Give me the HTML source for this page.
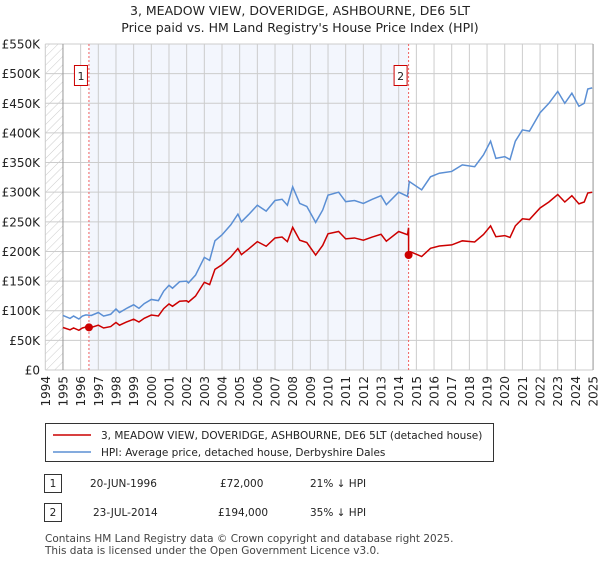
<!DOCTYPE html>
<html><head><meta charset="utf-8"><style>
body{margin:0;background:#fff;font-family:"Liberation Sans","DejaVu Sans",sans-serif;}
svg text{font-family:"DejaVu Sans","Liberation Sans",sans-serif;}
</style></head><body>
<svg width="600" height="560" xmlns="http://www.w3.org/2000/svg" id="chart">
<defs><pattern id="hatch" patternUnits="userSpaceOnUse" width="6" height="6" patternTransform="rotate(45)"><line x1="0" y1="0" x2="0" y2="6" stroke="#ccc" stroke-width="1"/></pattern></defs>
<text x="300" y="15" text-anchor="middle" font-size="12.5" fill="#222">3, MEADOW VIEW, DOVERIDGE, ASHBOURNE, DE6 5LT</text>
<text x="300" y="32" text-anchor="middle" font-size="12.5" fill="#222">Price paid vs. HM Land Registry's House Price Index (HPI)</text>
<g id="plot"></g>
<g>
<rect x="45.5" y="423.5" width="448" height="38" fill="#fff" stroke="#333"/>
<line x1="53" y1="435" x2="91" y2="435" stroke="#cc0000" stroke-width="1.5"/>
<text x="101" y="439" font-size="10.5" fill="#222">3, MEADOW VIEW, DOVERIDGE, ASHBOURNE, DE6 5LT (detached house)</text>
<line x1="53" y1="452" x2="91" y2="452" stroke="#5b8fd4" stroke-width="1.5"/>
<text x="101" y="456" font-size="10.5" fill="#222">HPI: Average price, detached house, Derbyshire Dales</text>
</g>
<g font-size="10.5" fill="#222">
<rect x="44.5" y="474.5" width="17" height="18" fill="#fff" stroke="#333"/><text x="53" y="487" text-anchor="middle">1</text>
<text x="90" y="487">20-JUN-1996</text><text x="220" y="487">£72,000</text><text x="310" y="487">21% ↓ HPI</text>
<rect x="44.5" y="503.5" width="17" height="18" fill="#fff" stroke="#333"/><text x="53" y="516" text-anchor="middle">2</text>
<text x="93" y="516">23-JUL-2014</text><text x="218" y="516">£194,000</text><text x="310" y="516">35% ↓ HPI</text>
</g>
<text x="45" y="542" font-size="10.5" fill="#444">Contains HM Land Registry data © Crown copyright and database right 2025.</text>
<text x="45" y="554" font-size="10.5" fill="#444">This data is licensed under the Open Government Licence v3.0.</text>
</svg>
<script>
const hpiYears=[1995.0,1995.4,1995.6,1995.9,1996.1,1996.3,1996.6,1997.0,1997.3,1997.7,1998.0,1998.2,1998.6,1999.0,1999.3,1999.6,2000.0,2000.4,2000.7,2001.0,2001.2,2001.6,2002.0,2002.1,2002.5,2003.0,2003.3,2003.6,2004.0,2004.5,2004.9,2005.1,2005.5,2006.0,2006.5,2007.0,2007.4,2007.7,2008.0,2008.4,2008.8,2009.3,2009.7,2010.0,2010.6,2011.0,2011.5,2012.0,2012.5,2013.0,2013.3,2014.0,2014.5,2014.6,2015.3,2015.8,2016.3,2017.0,2017.6,2018.3,2018.8,2019.2,2019.5,2020.0,2020.3,2020.6,2021.0,2021.4,2022.0,2022.5,2023.0,2023.4,2023.8,2024.2,2024.5,2024.7,2024.95];
const hpiValues=[92,87,91,86,91,93,92,97,91,94,103,97,104,110,104,112,119,117,133,143,138,149,150,147,160,190,185,218,228,245,263,250,262,278,268,286,288,278,309,281,276,249,270,295,300,284,286,281,288,294,279,300,293,318,304,326,332,335,346,343,363,386,357,360,355,386,405,403,434,450,470,450,467,445,450,474,476];
const saleYears=[1996.47,2014.56];
const salePrices=[72,194];
const saleLabels=["1","2"];
const yTicks=[0,50,100,150,200,250,300,350,400,450,500,550];
const xTickYears=[];for(let y=1994;y<=2025;y++)xTickYears.push(y);

const NS="http://www.w3.org/2000/svg";
const X0=45.3,PX=17.67,Y0=370,PY=326/550;
const xs=y=>X0+(y-1994)*PX, ys=v=>Y0-v*PY;
const g=document.getElementById('plot');
function el(t,a,p){const e=document.createElementNS(NS,t);for(const k in a)e.setAttribute(k,a[k]);(p||g).appendChild(e);return e;}
function hpiAt(t){for(let i=0;i<hpiYears.length-1;i++){if(t<=hpiYears[i+1]){const f=(t-hpiYears[i])/(hpiYears[i+1]-hpiYears[i]);return hpiValues[i]+f*(hpiValues[i+1]-hpiValues[i]);}}return hpiValues[hpiValues.length-1];}

const hatch=el('rect',{x:xs(1994),y:ys(550),width:xs(1995)-xs(1994),height:ys(0)-ys(550),fill:'url(#hatch)'});


const shade=el('rect',{x:xs(saleYears[0]),y:ys(550),width:xs(saleYears[1])-xs(saleYears[0]),height:ys(0)-ys(550),fill:'#eef2fc',opacity:0.7});



yTicks.forEach(v=>{
 const l=el('line',{x1:xs(1994),x2:xs(2025),y1:ys(v),y2:ys(v),stroke:'#ccc','stroke-width':1});
 
 
 const t=el('text',{x:40,y:ys(v)+4.5,'text-anchor':'end','font-size':12,fill:'#222'});
 
 
 t.textContent=v===0?'£0':'£'+v+'K';
});
xTickYears.forEach(y=>{
 const l=el('line',{x1:xs(y),x2:xs(y),y1:ys(550),y2:ys(0),stroke:'#ccc','stroke-width':1});
 
 
 const t=el('text',{x:0,y:0,'text-anchor':'end','font-size':12,fill:'#222',transform:`translate(${xs(y)+4.5},376) rotate(-90)`});
 
 
 t.textContent=y;
});
const ax=el('line',{x1:xs(1995),x2:xs(1995),y1:ys(550),y2:ys(0),stroke:'#999','stroke-width':1});


const ax2=el('line',{x1:xs(2025),x2:xs(2025),y1:ys(550),y2:ys(0),stroke:'#999','stroke-width':1});



saleYears.forEach((y,i)=>{
 const l=el('line',{x1:xs(y),x2:xs(y),y1:ys(550),y2:ys(0),stroke:'#f06060','stroke-width':1,'stroke-dasharray':'2,2'});
 
 
 const r=el('rect',{x:xs(y)-14.5,y:65.5,width:13,height:20,fill:'#fff',stroke:'#cc0000'});
 
 
 const t=el('text',{x:xs(y)-8,y:80,'text-anchor':'middle','font-size':11,fill:'#222'});
 
 
 t.textContent=saleLabels[i];
});

const hp=el('polyline',{points:hpiYears.map((y,i)=>xs(y)+','+ys(hpiValues[i])).join(' '),fill:'none',stroke:'#5b8fd4','stroke-width':1.5});



// price-paid series: last sale price indexed by HPI
const pts=[];
hpiYears.forEach((y,i)=>{
 let k=-1;saleYears.forEach((s,j)=>{if(s<=y)k=j;});
 if(k<0)k=0;
 pts.push([y,salePrices[k]*hpiValues[i]/hpiAt(saleYears[k])]);
});
saleYears.forEach((s,j)=>{if(j>0){const prev=salePrices[j-1]*hpiAt(s)/hpiAt(saleYears[j-1]);pts.push([s-0.001,prev]);} pts.push([s,salePrices[j]]);});
pts.sort((a,b)=>a[0]-b[0]);
const pp=el('polyline',{points:pts.map(p=>xs(p[0])+','+ys(p[1])).join(' '),fill:'none',stroke:'#cc0000','stroke-width':1.5});


saleYears.forEach((y,i)=>{
 const c=el('circle',{cx:xs(y),cy:ys(salePrices[i]),r:4,fill:'#cc0000'});
 
 
});
</script>
</body></html>
